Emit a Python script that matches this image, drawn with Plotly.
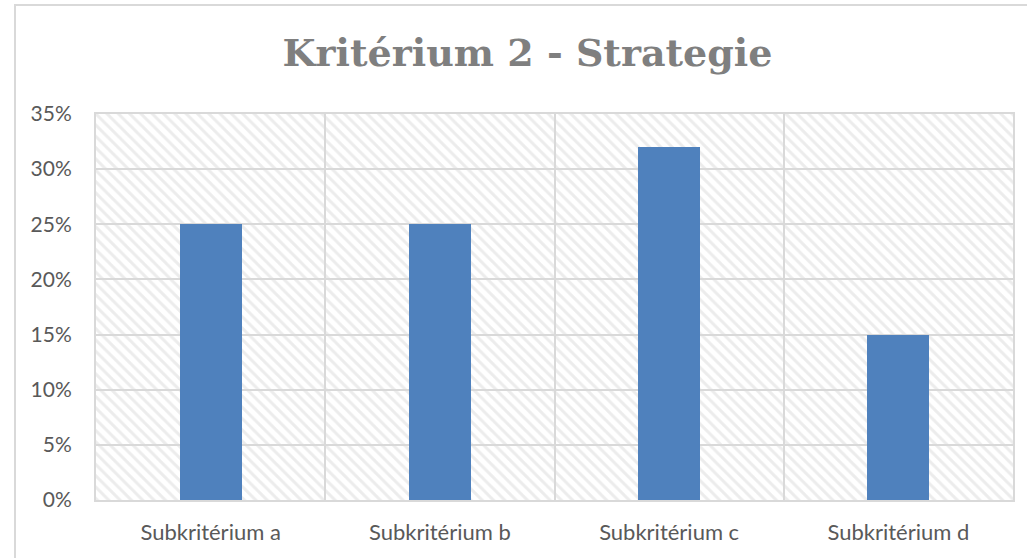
import plotly.graph_objects as go

categories = ["Subkritérium a", "Subkritérium b", "Subkritérium c", "Subkritérium d"]
values = [0.25, 0.25, 0.32, 0.15]
y_ticks = [0, 0.05, 0.10, 0.15, 0.20, 0.25, 0.30, 0.35]
y_max = 0.35
title_text = "Kritérium 2 - Strategie"

W, H = 1027, 558
L, R, T, B = 96, 14, 114, 58
pw = W - L - R
ph = H - T - B

xs = list(range(len(categories)))
n = len(categories)

fig = go.Figure()

# hatched plot-area background (decoration spanning whole plot area)
fig.add_trace(go.Bar(
    x=[(n - 1) / 2], y=[y_max], width=[n],
    marker=dict(color="rgba(0,0,0,0)", line=dict(width=0),
                pattern=dict(shape="\\", size=8, solidity=0.38,
                             fgcolor="#dadada", fillmode="overlay")),
    hoverinfo="skip", showlegend=False,
))

fig.add_trace(go.Bar(
    x=xs, y=values, width=0.27,
    marker=dict(color="#4f81bd", line=dict(width=0)),
    showlegend=False,
))

grid = "#d9d9d9"
fig.update_layout(
    width=W, height=H,
    margin=dict(l=L, r=R, t=T, b=B),
    paper_bgcolor="white", plot_bgcolor="white",
    barmode="overlay", bargap=0,
    title=dict(text=f"<b>{title_text}</b>",
               font=dict(family="DejaVu Serif", size=38, color="#7f7f7f"),
               xref="paper", x=(527.5 - L) / pw, xanchor="center",
               yref="container", y=1 - 53 / H, yanchor="middle"),
    font=dict(family="Lato", size=21, color="#595959"),
)
fig.update_xaxes(
    range=[-0.5, n - 0.5], tickvals=xs, ticktext=categories,
    showgrid=False, zeroline=False, ticks="",
    showline=True, mirror=True, linecolor=grid, linewidth=2,
    minor=dict(tick0=0.5, dtick=1, showgrid=True, gridcolor=grid, gridwidth=2, ticks=""),
    ticklabelstandoff=12,
    tickfont=dict(family="Lato", size=22, color="#595959"),
)
fig.update_yaxes(
    range=[0, y_max], tickvals=y_ticks, tickformat=".0%",
    showgrid=True, gridcolor=grid, gridwidth=2, zeroline=False, ticks="",
    showline=True, mirror=True, linecolor=grid, linewidth=2,
    ticklabelstandoff=18,
    tickfont=dict(family="Lato", size=21, color="#595959"),
)

# outer chart border
fig.add_shape(type="rect", xref="paper", yref="paper",
              x0=(15 - L) / pw, x1=(1045 - L) / pw,
              y0=(H - 565 - B) / ph, y1=(H - 5 - B) / ph,
              line=dict(color="#d9d9d9", width=2), fillcolor="rgba(0,0,0,0)",
              layer="below")

fig.write_html("out.html", config={"displayModeBar": False},
               post_script="document.body.style.margin='0';")
